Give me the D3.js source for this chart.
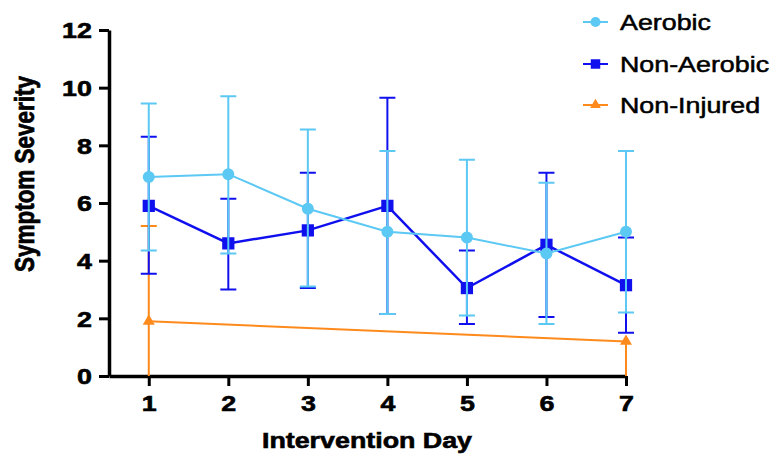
<!DOCTYPE html>
<html>
<head>
<meta charset="utf-8">
<script src="https://cdn.jsdelivr.net/npm/d3@7"></script>
<style>
    body { margin: 0; background: #ffffff; }
    svg { display: block; }
</style>
</head>
<body>
<div id="chart"></div>
<script>
var days = [1, 2, 3, 4, 5, 6, 7]
var yTicks = [0, 2, 4, 6, 8, 10, 12]

var aerobicMean = [6.9, 7.0, 5.8, 5.0, 4.8, 4.25, 5.0]
var aerobicUpper = [9.45, 9.7, 8.55, 7.8, 7.5, 6.7, 7.8]
var aerobicLower = [4.35, 4.25, 3.1, 2.15, 2.1, 1.8, 2.2]

var nonAerobicMean = [5.9, 4.6, 5.05, 5.9, 3.05, 4.55, 3.15]
var nonAerobicUpper = [8.3, 6.15, 7.05, 9.65, 4.35, 7.05, 4.8]
var nonAerobicLower = [3.55, 3.0, 3.05, 2.15, 1.8, 2.05, 1.5]

var nonInjuredDays = [1, 7]
var nonInjuredMean = [1.9, 1.2]
var nonInjuredUpper = [5.2, 1.2]
var nonInjuredLower = [0, 0]

var seriesNames = ['Aerobic', 'Non-Aerobic', 'Non-Injured']

var chart = (function(){

    var _svg = null
    var _x = null
    var _y = null
    // the source picture is stretched sideways, so text is too
    var STRETCH = 1.22
    var FONT = '"Liberation Sans", Arial, Helvetica, sans-serif'

    function buildPoints(dayList, mean, upper, lower){
        var result = []
        for(var i = 0; i < dayList.length; i++){
            result.push({ day: dayList[i], mean: mean[i], upper: upper[i], lower: lower[i] })
        }
        return result
    }

    function drawSeries(points, color, lineWidth, symbolType, symbolSize){
        var g = _svg.append('g')
        var capHalf = 8

        points.forEach(function(d){
            var cx = _x(d.day)
            if(d.upper > d.mean){
                g.append('path')
                    .attr('d', 'M' + cx + ',' + _y(d.mean) + 'V' + _y(d.upper) +
                        'M' + (cx - capHalf) + ',' + _y(d.upper) + 'H' + (cx + capHalf))
                    .attr('stroke', color).attr('stroke-width', 2).attr('fill', 'none')
            }
            if(d.lower < d.mean){
                var capPath = d.lower > 0
                    ? 'M' + (cx - capHalf) + ',' + _y(d.lower) + 'H' + (cx + capHalf)
                    : ''
                g.append('path')
                    .attr('d', 'M' + cx + ',' + _y(d.mean) + 'V' + _y(d.lower) + capPath)
                    .attr('stroke', color).attr('stroke-width', 2).attr('fill', 'none')
            }
        })

        var line = d3.line()
            .x(function(d){ return _x(d.day) })
            .y(function(d){ return _y(d.mean) })

        g.append('path')
            .datum(points)
            .attr('d', line)
            .attr('fill', 'none')
            .attr('stroke', color)
            .attr('stroke-width', lineWidth)

        g.selectAll('path.marker')
            .data(points)
            .enter()
            .append('path')
            .attr('class', 'marker')
            .attr('d', d3.symbol().type(symbolType).size(symbolSize))
            .attr('transform', function(d){ return 'translate(' + _x(d.day) + ',' + _y(d.mean) + ')' })
            .attr('fill', color)
    }

    function drawAxes(){
        var yAxis = d3.axisLeft(_y).tickValues(yTicks).tickFormat(d3.format('d'))
            .tickSize(10).tickSizeOuter(0).tickPadding(4)
        var xAxis = d3.axisBottom(_x).tickValues(days).tickFormat(d3.format('d'))
            .tickSize(10).tickSizeOuter(0).tickPadding(9)

        var gy = _svg.append('g').attr('transform', 'translate(' + _x.range()[0] + ',0)').call(yAxis)
        var gx = _svg.append('g').attr('transform', 'translate(0,' + _y.range()[0] + ')').call(xAxis)

        ;[gx, gy].forEach(function(g){
            g.select('.domain').attr('stroke', '#000').attr('stroke-width', 3.5)
            g.selectAll('.tick line').attr('stroke', '#000').attr('stroke-width', 3)
            g.selectAll('.tick text')
                .attr('fill', '#000')
                .attr('stroke', '#000')
                .attr('stroke-width', 0.6)
                .attr('font-family', FONT)
                .attr('font-weight', 'bold')
                .attr('font-size', 22)
                .attr('transform', 'scale(' + STRETCH + ',1)')
        })
        gy.selectAll('.tick text').attr('dy', '0.35em')
    }

    function drawTitles(){
        _svg.append('text')
            .attr('transform', 'translate(367,448) scale(' + STRETCH + ',1)')
            .attr('text-anchor', 'middle')
            .attr('font-family', FONT)
            .attr('font-weight', 'bold')
            .attr('font-size', 22)
            .attr('stroke', '#000')
            .attr('stroke-width', 0.6)
            .text('Intervention Day')

        _svg.append('text')
            .attr('transform', 'translate(34,174) rotate(-90) scale(1,' + STRETCH + ')')
            .attr('text-anchor', 'middle')
            .attr('font-family', FONT)
            .attr('font-weight', 'bold')
            .attr('font-size', 22.5)
            .attr('stroke', '#000')
            .attr('stroke-width', 0.6)
            .text('Symptom Severity')
    }

    function drawLegend(colors, symbols, sizes){
        var rowY = [22, 64, 105]
        for(var i = 0; i < seriesNames.length; i++){
            var g = _svg.append('g').attr('transform', 'translate(0,' + rowY[i] + ')')
            g.append('line')
                .attr('x1', 583).attr('x2', 608)
                .attr('y1', 0).attr('y2', 0)
                .attr('stroke', colors[i]).attr('stroke-width', 2)
            g.append('path')
                .attr('d', d3.symbol().type(symbols[i]).size(sizes[i]))
                .attr('transform', 'translate(595.5,0)')
                .attr('fill', colors[i])
            g.append('text')
                .attr('transform', 'translate(620,8) scale(' + STRETCH + ',1)')
                .attr('font-family', FONT)
                .attr('font-size', 22)
                .attr('fill', '#000')
                .attr('stroke', '#000')
                .attr('stroke-width', 0.5)
                .text(seriesNames[i])
        }
    }

    return {
        create: function(elementId){
            var width = 781
            var height = 464

            _svg = d3.select('#' + elementId).append('svg')
                .attr('width', width)
                .attr('height', height)

            _x = d3.scaleLinear().domain([0.5, 7]).range([109, 626])
            _y = d3.scaleLinear().domain([0, 12]).range([376, 30])

            var colors = ['#5cc8f4', '#1010ee', '#ff8a1c']
            var symbols = [d3.symbolCircle, d3.symbolSquare, d3.symbolTriangle]

            drawAxes()

            drawSeries(buildPoints(nonInjuredDays, nonInjuredMean, nonInjuredUpper, nonInjuredLower),
                colors[2], 2, symbols[2], 62)
            drawSeries(buildPoints(days, nonAerobicMean, nonAerobicUpper, nonAerobicLower),
                colors[1], 2.5, symbols[1], 150)
            drawSeries(buildPoints(days, aerobicMean, aerobicUpper, aerobicLower),
                colors[0], 2, symbols[0], 113)

            drawTitles()
            drawLegend(colors, symbols, [80, 90, 50])
        }
    }
})()

chart.create('chart')
</script>
</body>
</html>
